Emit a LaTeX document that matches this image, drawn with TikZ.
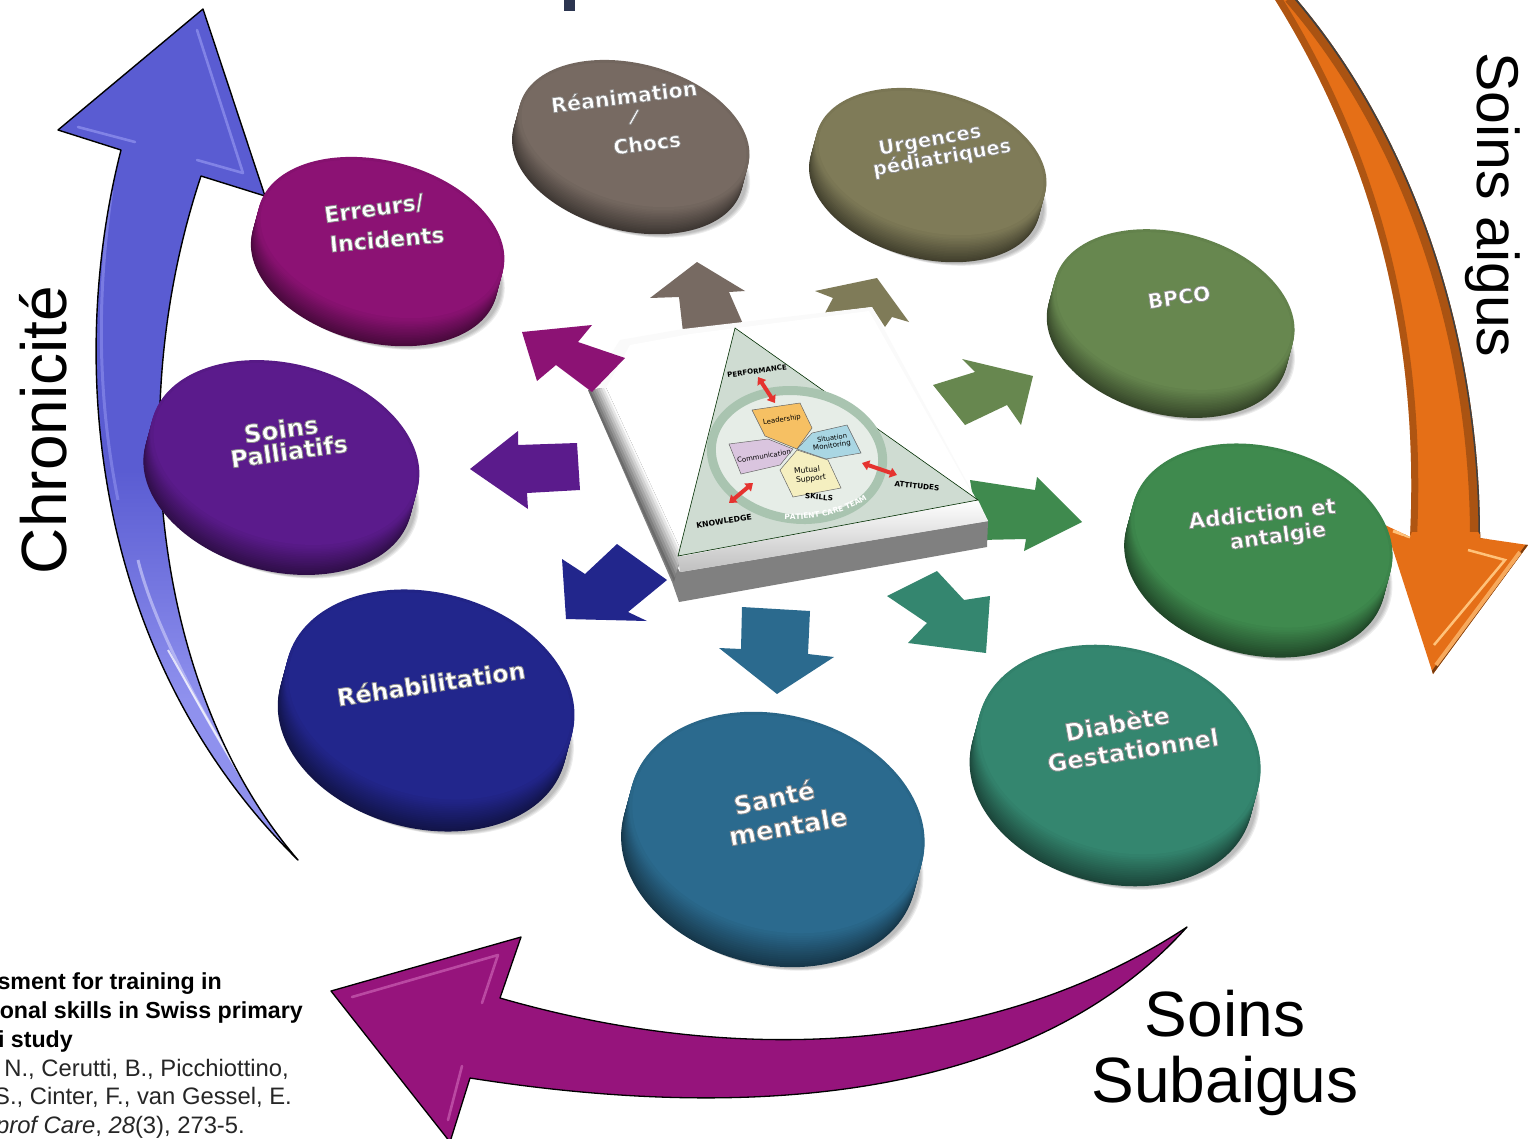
\documentclass[tikz,border=0pt]{standalone}
\usepackage{fontspec}
\usepackage{graphicx}
\setmainfont{Liberation Sans}
\newfontfamily\labfont{DejaVu Sans}
\usetikzlibrary{arrows.meta,decorations.text}
\definecolor{cErr}{HTML}{8C1274}
\definecolor{cPal}{HTML}{5B1B8C}
\definecolor{cReh}{HTML}{22268C}
\definecolor{cSan}{HTML}{2B6A8E}
\definecolor{cDia}{HTML}{34866F}
\definecolor{cAdd}{HTML}{3F8A4E}
\definecolor{cBpc}{HTML}{67874F}
\definecolor{cUrg}{HTML}{7F7B58}
\definecolor{cRea}{HTML}{776A62}
\definecolor{cBlue}{HTML}{5A5CD2}
\definecolor{cBlueL}{HTML}{8F91EE}
\definecolor{cMag}{HTML}{96147C}
\definecolor{cMagL}{HTML}{C75CB0}
\definecolor{cOra}{HTML}{E56F17}
\definecolor{cOraD}{HTML}{7A3C0E}
\definecolor{cOraH}{HTML}{FFC27A}
\definecolor{cRed}{HTML}{E5332F}
\definecolor{cTri}{HTML}{CFDCD2}
\definecolor{cRing}{HTML}{A9C4B0}
\definecolor{cIn}{HTML}{E6EDE7}
\definecolor{cLead}{HTML}{F6C063}
\definecolor{cSit}{HTML}{A9D6E3}
\definecolor{cCom}{HTML}{DAC5DF}
\definecolor{cMut}{HTML}{F5EFC0}
\definecolor{cFrag}{HTML}{2C3550}
\tikzset{
  big/.style={font=\fontsize{64}{64}\selectfont,anchor=base,inner sep=0pt},
  disklabel/.style={inner sep=0pt,text=white,font=\labfont\bfseries\fontsize{20}{20}\selectfont},
  smalllabel/.style={inner sep=0pt,font=\labfont\bfseries\fontsize{10}{10}\selectfont},
  citation/.style={anchor=base east,inner sep=0pt,font=\fontsize{23.8}{24}\selectfont,text=black!85},
  citeb/.style={citation,text=black,font=\bfseries\fontsize{23.2}{24}\selectfont},
  redarrow/.style={{Triangle[length=7pt,width=10pt]}-{Triangle[length=7pt,width=10pt]},draw=cRed,line width=4pt},
  bevel/.style={line width=2.6pt,line cap=round,line join=round,opacity=.75},
  shapeline/.style={draw=black!60,line width=.5pt},
}
\newcommand{\strk}[1]{\special{pdf:code 2 Tr 0.7 w 0.55 0.55 0.55 RG}#1\special{pdf:code 0 Tr}}
% name cx cy a b depth colour
\newcommand{\disk}[7]{%
  \begin{scope}[shift={(#2,#3)}]
    \foreach \s in {1,...,4}
      \fill[black,opacity=.07,rotate=-15] (3+\s*1.2,#6+\s*.4)
        ellipse [x radius=#4pt,y radius=#5pt];
    \foreach \k in {0,...,16} {
      \pgfmathsetmacro\mm{52+44*\k/16}
      \pgfmathsetmacro\oo{#6*(1-\k/16)}
      \fill[#7!\mm!black] (0,\oo) [rotate=-15] ellipse [x radius=#4pt,y radius=#5pt];
    }
    \fill[#7] (0,0) [rotate=-15] ellipse [x radius=#4pt-3pt,y radius=#5pt-3pt];
  \end{scope}
  \coordinate (#1) at (#2,#3);}
% name x y rot width text
\newcommand{\lab}[6]{\node[disklabel,rotate=#4] (#1) at (#2,#3) {\resizebox{#5pt}{!}{\strk{#6}}};}
\newcommand{\sml}[6]{\node[smalllabel,rotate=#4] (#1) at (#2,#3) {\resizebox{#5pt}{!}{#6}};}
\begin{document}
\begin{tikzpicture}[x=1pt,y=-1pt]
\path[use as bounding box,fill=white] (0,0) rectangle (1528,1138);
\clip (0,0) rectangle (1528,1138);

% fragment at the top edge
\fill[cFrag] (564,0) rectangle (575,11);

% ORANGE ARROW
\begin{scope}
\path[save path=\orapath] (1272,-5) .. controls (1370,150) and (1420,330) .. (1410,537)
   -- (1385,525) -- (1433,674) -- (1528,545) -- (1480,538)
   .. controls (1480,330) and (1410,130) .. (1293,-5) -- cycle;
\fill[cOra,use path=\orapath];
\clip[use path=\orapath];
\draw[cOraD,line width=20pt,opacity=.55] (1480,538) .. controls (1480,330) and (1410,130) .. (1293,-5);
\draw[black!75,line width=5pt] (1481,538) .. controls (1481,330) and (1411,130) .. (1294,-5);
\draw[cOraD,line width=14pt,opacity=.5] (1410,537) .. controls (1420,330) and (1370,150) .. (1272,-5);
\draw[cOra!70!yellow,line width=2pt] (1406,537) .. controls (1416,330) and (1366,150) .. (1268,-5);
\fill[cOra] (1412,532) -- (1478,532) -- (1490,548) -- (1433,650) -- (1400,560) -- cycle;
\draw[cOraD,line width=4pt] (1432,674) -- (1528,545);
\draw[cOraH!70!cOra,line width=4pt] (1436,665) -- (1520,552);
\draw[cOraH,line width=2.5pt] (1434,645) -- (1505,560) -- (1468,550);
\draw[cOraD,line width=4pt] (1480,536) -- (1528,542);
\draw[cOraH,line width=3pt] (1393,531) -- (1410,537);
\end{scope}

% BLUE ARROW
\begin{scope}
\path[save path=\blupath] (203,9) -- (58,130) -- (121,150)
   .. controls (65,370) and (95,660) .. (298,860)
   .. controls (160,700) and (120,420) .. (201,176) -- (265,196) -- cycle;
\fill[cBlue,use path=\blupath];
\begin{scope}
\clip[use path=\blupath];
\shade[top color=cBlue,bottom color=cBlueL] (80,470) rectangle (320,700);
\fill[cBlueL] (80,700) rectangle (320,870);
\draw[cBlueL!60!white,line width=3pt,opacity=.8] (138,560) .. controls (155,630) and (215,745) .. (295,855);
\draw[white,line width=2pt,opacity=.75] (168,650) .. controls (185,680) and (210,725) .. (240,775);
\draw[cBlueL,line width=3pt,opacity=.6] (112,190) .. controls (96,300) and (98,400) .. (118,500);
\end{scope}
\draw[black,line width=1.4pt,line join=round,use path=\blupath];
\draw[cBlueL,bevel] (78,127) -- (135,142);
\draw[cBlueL,bevel] (197,30) -- (243,173) -- (197,160);
\end{scope}

% MAGENTA ARROW
\begin{scope}
\path[save path=\magpath] (521,937) -- (331,991) -- (450,1142) -- (470,1078)
   .. controls (800,1130) and (1050,1080) .. (1187,927)
   .. controls (1000,1050) and (750,1070) .. (500,998) -- cycle;
\fill[cMag,use path=\magpath];
\draw[black,line width=1.3pt,line join=round,use path=\magpath];
\draw[cMagL,bevel] (352,997) -- (498,955) -- (482,1003);
\draw[cMagL,bevel] (448,1120) -- (462,1066);
\end{scope}

% SMALL ARROWS BEHIND THE PLATE
\fill[cRea] (697,262) -- (650,298) -- (679,297) -- (683,332) -- (743,324) -- (729,292) -- (745,291) -- cycle;
\fill[cUrg] (877,278) -- (815,291) -- (833,298) -- (825,313) -- (872,307) -- (885,327) -- (892,317) -- (909,322) -- cycle;
\fill[cBpc] (933,385) -- (975,372) -- (962,359) -- (1033,376) -- (1021,425) -- (1007,405) -- (965,425) -- cycle;
\fill[cAdd] (970,480) -- (1035,490) -- (1037,477) -- (1082,522) -- (1024,551) -- (1026,539) -- (980,540) -- cycle;
\fill[cDia] (887,596) -- (937,571) -- (964,600) -- (990,596) -- (986,653) -- (908,643) -- (927,623) -- cycle;
\fill[cSan] (742,607) -- (810,611) -- (808,654) -- (834,657) -- (777,694) -- (719,648) -- (741,649) -- cycle;
\fill[cPal] (470,469) -- (518,431) -- (518,445) -- (577,443) -- (580,490) -- (527,493) -- (528,509) -- cycle;

% PLATE
\fill[black!50] (588,390) -- (672,582) -- (679,602) -- (987,547) -- (988,521) -- (680,560) -- cycle;
\fill[black!2] (588,390) -- (620,340) -- (683,329) -- (872,307) -- (988,521) -- (680,572) -- cycle;
\fill[white] (606,388) -- (630,345) -- (690,334) -- (869,311) -- (974,497) -- (682,553) -- cycle;
\foreach \k in {0,...,7} {
  \pgfmathsetmacro\gg{58-8*\k}
  \fill[black!\gg] (588+\k*2.3,390-\k*.3) -- (606,388) -- (682,553) -- (674+\k,582-\k*4) -- cycle;
}
\shade[top color=white,bottom color=black!25] (678,557) -- (978,500) -- (988,521) -- (680,572) -- cycle;

% TRIANGLE
\draw[fill=cTri,draw=black!50!green!35!black,line width=.6pt] (735,328) -- (678,556) -- (978,500) -- cycle;
\draw[cRing,line width=9pt,fill=cIn,rotate around={-8:(797,455)}] (797,455) ellipse [x radius=86pt,y radius=64pt];

% INNER SHAPES
\fill[cLead] (752,410) -- (800,403) -- (812,428) -- (797,449) -- (765,436) -- cycle;
\draw[shapeline] (752,410) -- (800,403) -- (812,428) -- (797,449) -- (765,436) -- cycle;
\fill[cSit] (797,449) -- (812,433) -- (847,425) -- (861,453) -- (826,459) -- cycle;
\draw[shapeline] (797,449) -- (812,433) -- (847,425) -- (861,453) -- (826,459) -- cycle;
\fill[cCom] (729,444) -- (768,439) -- (793,449) -- (780,465) -- (741,474) -- cycle;
\draw[shapeline] (729,444) -- (768,439) -- (793,449) -- (780,465) -- (741,474) -- cycle;
\fill[cMut] (797,450) -- (828,460) -- (841,488) -- (793,497) -- (780,470) -- cycle;
\draw[shapeline] (797,450) -- (828,460) -- (841,488) -- (793,497) -- (780,470) -- cycle;

\sml{tLead}{782}{420}{8}{38}{\mdseries Leadership}
\sml{tSit}{832}{438}{8}{30}{\mdseries Situation}
\sml{tMon}{832}{446}{8}{38}{\mdseries Monitoring}
\sml{tCom}{764}{456}{9}{54}{\mdseries Communication}
\sml{tMut}{807}{470}{5}{26}{\mdseries Mutual}
\sml{tSup}{811}{479}{6}{30}{\mdseries Support}
\sml{tPerf}{757}{371}{8}{60}{PERFORMANCE}
\sml{tSkil}{819}{497}{-5}{28}{SKILLS}
\sml{tAtt}{917}{486}{-6}{45}{ATTITUDES}
\sml{tKnow}{724}{521}{9}{56}{KNOWLEDGE}
\coordinate (pA) at (781,519);
\coordinate (pB) at (870,497);
\path[decorate,decoration={text along path,text align=center,
    text={|\labfont\bfseries\fontsize{7.5}{8}\selectfont\color{white}|PATIENT CARE TEAM}}]
  (pA) .. controls (810,521) and (848,514) .. (pB);

\coordinate (r1a) at (758,377); \coordinate (r1b) at (775,403);
\coordinate (r2a) at (862,463); \coordinate (r2b) at (897,475);
\coordinate (r3a) at (729,503); \coordinate (r3b) at (753,483);
\draw[redarrow] (r1a) -- (r1b);
\draw[redarrow] (r2a) -- (r2b);
\draw[redarrow] (r3a) -- (r3b);

% SMALL ARROWS OVER THE PLATE
\fill[cErr] (522,332) -- (592,325) -- (578,342) -- (625,358) -- (592,392) -- (556,365) -- (537,381) -- cycle;
\fill[cReh] (562,559) -- (585,574) -- (617,544) -- (667,580) -- (628,612) -- (647,621) -- (566,619) -- cycle;

% DISKS
\disk{dRea}{634}{135}{118}{71}{25}{cRea}
\disk{dUrg}{931}{163}{118}{71}{25}{cUrg}
\disk{dBpc}{1174}{311}{123}{78}{26}{cBpc}
\disk{dAdd}{1262}{537}{133}{90}{28}{cAdd}
\disk{dDia}{1119}{751}{144}{103}{30}{cDia}
\disk{dSan}{777}{824}{150}{109}{32}{cSan}
\disk{dReh}{430}{696}{147}{103}{30}{cReh}
\disk{dPal}{285}{454}{137}{90}{28}{cPal}
\disk{dErr}{381}{239}{126}{78}{26}{cErr}

% DISK LABELS
\lab{l1a}{624}{96}{7}{147}{Réanimation}
\lab{l1b}{634}{117}{-12}{7}{/}
\lab{l1c}{647}{143}{7}{68}{Chocs}
\lab{l2a}{930}{141}{10}{104}{Urgences}
\lab{l2b}{942}{158}{10}{140}{pédiatriques}
\lab{l3}{1179}{297}{8}{63}{BPCO}
\lab{l4a}{1262}{513}{6}{148}{Addiction et}
\lab{l4b}{1278}{537}{8}{97}{antalgie}
\lab{l5a}{1117}{723}{10}{106}{Diabète}
\lab{l5b}{1133}{750}{9}{173}{Gestationnel}
\lab{l6a}{774}{797}{12}{82}{Santé}
\lab{l6b}{788}{826}{10}{120}{mentale}
\lab{l7}{431}{683}{8.5}{190}{Réhabilitation}
\lab{l8a}{281}{429}{8}{75}{Soins}
\lab{l8b}{289}{451}{8}{118}{Palliatifs}
\lab{l9a}{374}{209}{8}{100}{Erreurs/}
\lab{l9b}{387}{239}{5}{115}{Incidents}

% LARGE TEXTS
\node[big,rotate=90] (tChr) at (66,430) {Chronicité};
\node[big,rotate=-90,font=\fontsize{59}{59}\selectfont] (tAig) at (1477,205) {Soins aigus};
\node[big] (tSoi) at (1225,1036) {Soins};
\node[big] (tSub) at (1225,1102) {Subaigus};

% CITATION
\node[citeb] (c1) at (222,989) {sment for training in};
\node[citeb] (c2) at (303,1018) {onal skills in Swiss primary};
\node[citeb] (c3) at (73,1047) {i study};
\node[citation] (c4) at (289,1076) {N., Cerutti, B., Picchiottino,};
\node[citation] (c5) at (292,1104) {S., Cinter, F., van Gessel, E.};
\node[citation] (c6) at (245,1133) {\itshape prof Care\upshape, \itshape 28\upshape (3), 273-5.};
\end{tikzpicture}
\end{document}
